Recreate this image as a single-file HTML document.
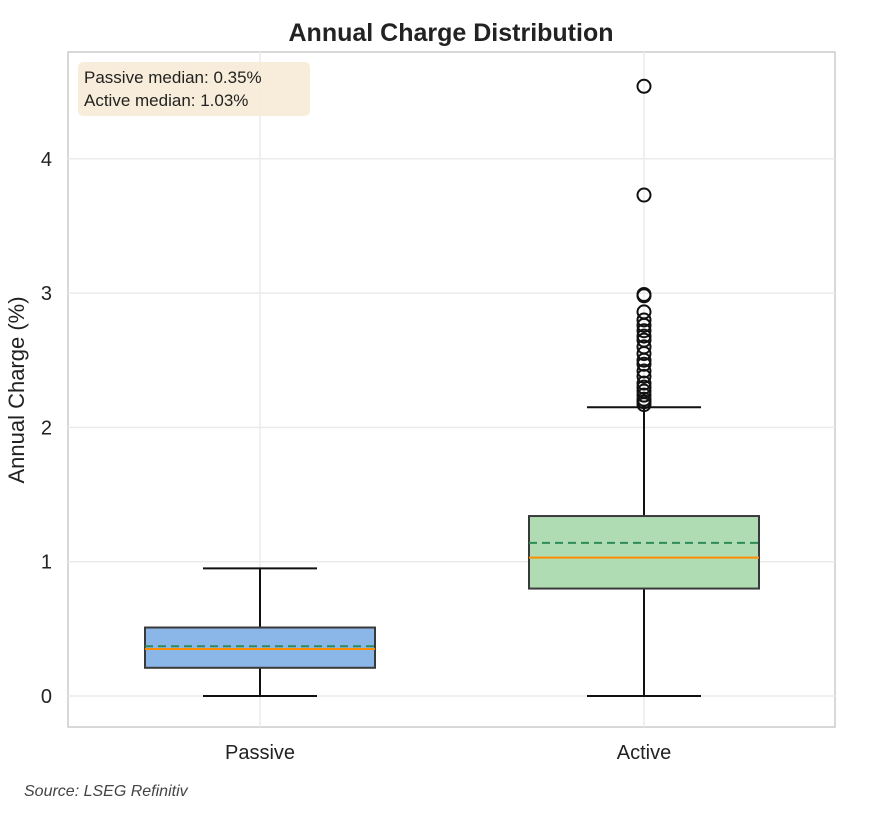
<!DOCTYPE html>
<html><head><meta charset="utf-8"><style>
body{margin:0;background:#fff;}
svg{display:block;font-family:"Liberation Sans",sans-serif;}
</style></head><body>
<svg id="c" width="878" height="813">
<text x="451" y="41" text-anchor="middle" font-size="25" font-weight="bold" fill="#222">Annual Charge Distribution</text>
<rect x="68" y="52" width="767" height="675" fill="#fff" stroke="#ccc" stroke-width="1.5"/>
<g id="grid"></g><g id="marks"></g>
<text transform="translate(24,390) rotate(-90)" text-anchor="middle" font-size="22" fill="#222">Annual Charge (%)</text>
<rect x="78" y="62" width="232" height="54" rx="5" fill="#f7ebd6" opacity="0.9"/>
<text x="84" y="83" font-size="17" fill="#222">Passive median: 0.35%</text>
<text x="84" y="106" font-size="17" fill="#222">Active median: 1.03%</text>
<text x="24" y="796" font-size="16" font-style="italic" fill="#444">Source: LSEG Refinitiv</text>
</svg>
<script>
const categories=["Passive","Active"];
const q1=[0.21,0.80];
const q3=[0.51,1.34];
const medians=[0.35,1.03];
const means=[0.37,1.14];
const whiskLo=[0,0];
const whiskHi=[0.95,2.15];
const activeOutliers=[4.54,3.73,2.99,2.98,2.86,2.8,2.76,2.72,2.68,2.65,2.6,2.55,2.5,2.47,2.42,2.38,2.33,2.3,2.27,2.24,2.21,2.19,2.17];
const yTicks=[0,1,2,3,4];
const fills=["#8ab6e8","#b0dcb4"];
const meanColors=["#2e8b57","#2e8b57"];
const NS="http://www.w3.org/2000/svg";
const y=v=>696-v*134.3;
const x=i=>260+i*384;
function mk(p,t,a){const e=document.createElementNS(NS,t);for(const k in a)e.setAttribute(k,a[k]);p.appendChild(e);return e;}
const g=document.getElementById('grid'),m=document.getElementById('marks');
yTicks.forEach(t=>{
 const l=mk(g,'line',{x1:68,x2:835,y1:y(t),y2:y(t),stroke:'#ebebeb','stroke-width':1.5});
 
 
 const tx=mk(g,'text',{x:52,y:y(t)+7,'text-anchor':'end','font-size':20,fill:'#222'});tx.textContent=t;
 
 
});
categories.forEach((c,i)=>{
 const cx=x(i);
 const vl=mk(g,'line',{x1:cx,x2:cx,y1:52,y2:727,stroke:'#ebebeb','stroke-width':1.5});
 
 
 const tx=mk(g,'text',{x:cx,y:759,'text-anchor':'middle','font-size':20,fill:'#222'});tx.textContent=c;
 
 
 const bw=115,cw=57;
 const w1=mk(m,'line',{x1:cx,x2:cx,y1:y(q1[i]),y2:y(whiskLo[i]),stroke:'#111','stroke-width':2});
 
 
 const w2=mk(m,'line',{x1:cx,x2:cx,y1:y(q3[i]),y2:y(whiskHi[i]),stroke:'#111','stroke-width':2});
 
 
 [whiskLo[i],whiskHi[i]].forEach(v=>{const cap=mk(m,'line',{x1:cx-cw,x2:cx+cw,y1:y(v),y2:y(v),stroke:'#111','stroke-width':2});
 
 });
 const b=mk(m,'rect',{x:cx-bw,y:y(q3[i]),width:2*bw,height:y(q1[i])-y(q3[i]),fill:fills[i],stroke:'#3a3a3a','stroke-width':2});
 
 
 const me=mk(m,'line',{x1:cx-bw,x2:cx+bw,y1:y(medians[i]),y2:y(medians[i]),stroke:'#ff8c00','stroke-width':2});
 
 
 const mn=mk(m,'line',{x1:cx-bw,x2:cx+bw,y1:y(means[i]),y2:y(means[i]),stroke:meanColors[i],'stroke-width':2,'stroke-dasharray':'8,5'});
 
 
});
activeOutliers.forEach(v=>{
 const o=mk(m,'circle',{cx:x(1),cy:y(v),r:6.5,fill:'none',stroke:'#111','stroke-width':2});
 
 
});
</script>
</body></html>
